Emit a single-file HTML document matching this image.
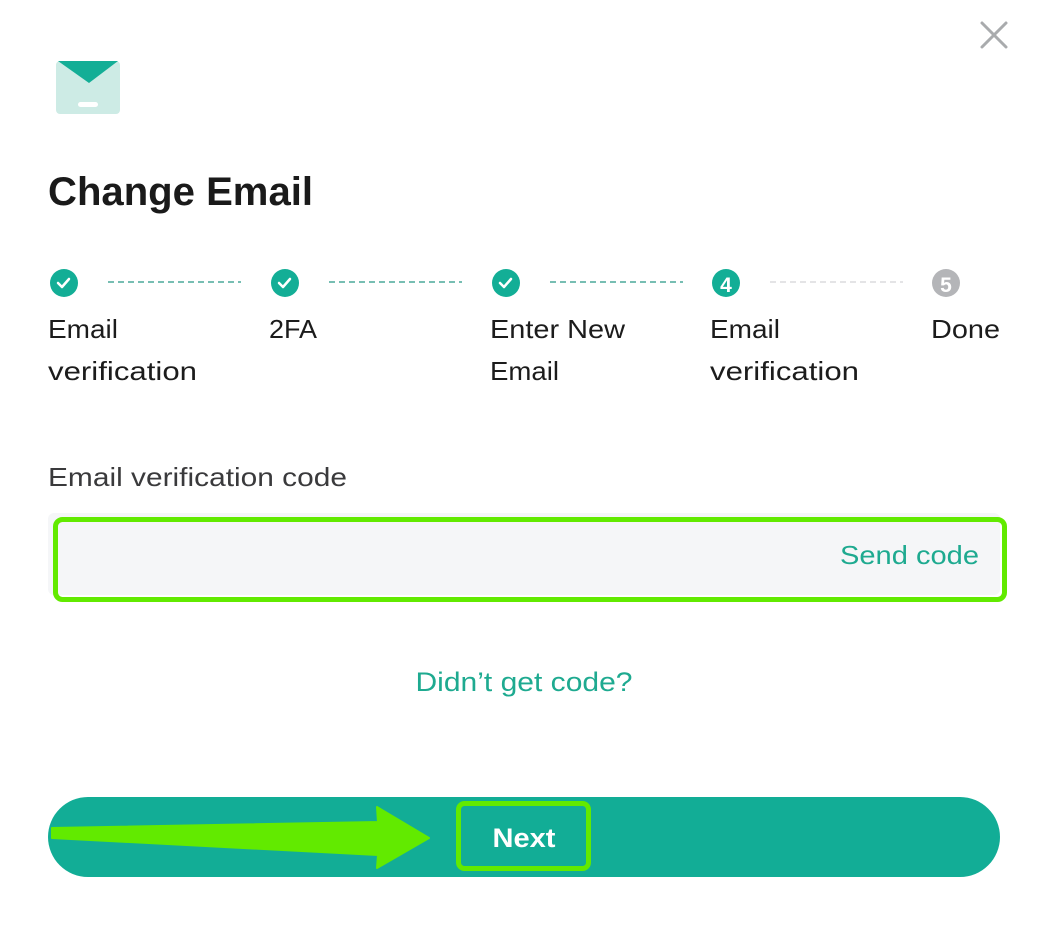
<!DOCTYPE html>
<html><head><meta charset="utf-8"><style>
html,body{margin:0;padding:0;background:#fff;width:1038px;height:930px;overflow:hidden}
svg{display:block}
text{font-family:"Liberation Sans",sans-serif}
</style></head><body>
<svg width="1038" height="930" viewBox="0 0 1038 930" xmlns="http://www.w3.org/2000/svg">
<!-- close -->
<g stroke="#a9abad" stroke-width="3" stroke-linecap="round">
<line x1="982" y1="23" x2="1006" y2="47"/><line x1="1006" y1="23" x2="982" y2="47"/>
</g>
<!-- envelope icon -->
<rect x="56" y="61" width="64" height="53" rx="4" fill="#cdebe5"/>
<path d="M58 61 H118 L89 83 Z" fill="#13ae96"/>
<rect x="78" y="102" width="20" height="5" rx="2.5" fill="#fff"/>
<!-- title -->
<text x="48" y="205" font-size="40" font-weight="bold" fill="#1a1a1a" textLength="265" lengthAdjust="spacingAndGlyphs">Change Email</text>
<!-- stepper -->
<g fill="#13ae96">
<circle cx="64" cy="283" r="14"/><circle cx="285" cy="283" r="14"/><circle cx="506" cy="283" r="14"/><circle cx="726" cy="283" r="14"/>
</g>
<circle cx="946" cy="283" r="14" fill="#b4b5b8"/>
<g stroke="#fff" stroke-width="2.5" fill="none" stroke-linecap="round" stroke-linejoin="round">
<path d="M58 283 l4 4 l7 -8"/><path d="M279 283 l4 4 l7 -8"/><path d="M500 283 l4 4 l7 -8"/>
</g>
<text x="726" y="292" font-size="21" font-weight="bold" fill="#fff" text-anchor="middle">4</text>
<text x="946" y="292" font-size="21" font-weight="bold" fill="#fff" text-anchor="middle">5</text>
<g stroke-width="1.6" stroke-dasharray="6 4">
<line x1="108" y1="282" x2="241" y2="282" stroke="#4aa89a"/>
<line x1="329" y1="282" x2="462" y2="282" stroke="#4aa89a"/>
<line x1="550" y1="282" x2="683" y2="282" stroke="#4aa89a"/>
<line x1="770" y1="282" x2="903" y2="282" stroke="#dcdcde"/>
</g>
<g font-size="26" fill="#1c1c1c">
<text x="48" y="338" textLength="70" lengthAdjust="spacingAndGlyphs">Email</text>
<text x="48" y="380" textLength="149" lengthAdjust="spacingAndGlyphs">verification</text>
<text x="269" y="338" textLength="48" lengthAdjust="spacingAndGlyphs">2FA</text>
<text x="490" y="338" textLength="135" lengthAdjust="spacingAndGlyphs">Enter New</text>
<text x="490" y="380" textLength="69" lengthAdjust="spacingAndGlyphs">Email</text>
<text x="710" y="338" textLength="70" lengthAdjust="spacingAndGlyphs">Email</text>
<text x="710" y="380" textLength="149" lengthAdjust="spacingAndGlyphs">verification</text>
<text x="931" y="338" textLength="69" lengthAdjust="spacingAndGlyphs">Done</text>
</g>
<!-- label -->
<text x="48" y="486" font-size="26" fill="#3a3a3c" textLength="299" lengthAdjust="spacingAndGlyphs">Email verification code</text>
<!-- input -->
<rect x="48" y="513" width="952" height="82" rx="6" fill="#f5f6f8"/>
<rect x="55.5" y="519.5" width="949" height="80" rx="7" fill="none" stroke="#62ea00" stroke-width="5"/>
<text x="979" y="564" font-size="26" fill="#1eaa90" text-anchor="end" textLength="139" lengthAdjust="spacingAndGlyphs">Send code</text>
<!-- didn't get code -->
<text x="524" y="691" font-size="27" fill="#1eaa90" text-anchor="middle" textLength="217" lengthAdjust="spacingAndGlyphs">Didn’t get code?</text>
<!-- button -->
<rect x="48" y="797" width="952" height="80" rx="40" fill="#12ad96"/>
<!-- arrow -->
<path d="M52 828 L378 822 L377 807 L429 838 L377 868 L378 855 L52 838 Z" fill="#62ea00" stroke="#62ea00" stroke-width="2" stroke-linejoin="round"/>
<rect x="458.5" y="803.5" width="130" height="65" rx="6" fill="none" stroke="#62ea00" stroke-width="5"/>
<text x="524" y="847" font-size="27" font-weight="bold" fill="#fff" text-anchor="middle" textLength="63" lengthAdjust="spacingAndGlyphs">Next</text>
</svg>
</body></html>
